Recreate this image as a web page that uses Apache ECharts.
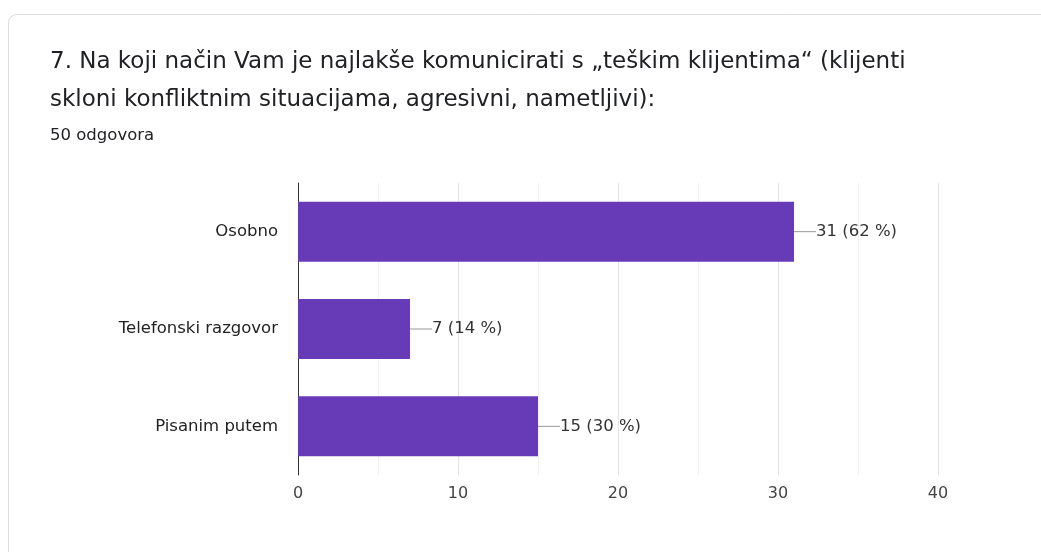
<!DOCTYPE html>
<html><head><meta charset="utf-8">
<script src="https://cdn.jsdelivr.net/npm/echarts@6/dist/echarts.min.js"></script>
<style>html,body{margin:0;padding:0;background:#fff}#c{width:1041px;height:552px}</style>
</head><body><div id="c"></div>
<script>
const categories = ['Osobno', 'Telefonski razgovor', 'Pisanim putem'];
const values = [31, 7, 15];
const percents = ['62 %', '14 %', '30 %'];
const xTicks = [0, 10, 20, 30, 40];

const F = '"DejaVu Sans", Verdana, sans-serif';
const chart = echarts.init(document.getElementById('c'));
chart.setOption({
  animation: false,
  backgroundColor: '#fff',
  graphic: [
    {type: 'rect', shape: {x: 8.5, y: 14.5, width: 1100, height: 600, r: 8}, style: {fill: '#fff', stroke: '#dadce0', lineWidth: 1}, z: -10},
    {type: 'text', left: 50, top: 51, style: {text: '7. Na koji način Vam je najlakše komunicirati s „teškim klijentima“ (klijenti', font: '23px ' + F, fill: '#202124'}},
    {type: 'text', left: 50, top: 89, style: {text: 'skloni konfliktnim situacijama, agresivni, nametljivi):', font: '23px ' + F, fill: '#202124'}},
    {type: 'text', left: 50, top: 127, style: {text: '50 odgovora', font: '16.5px ' + F, fill: '#202124'}}
  ],
  grid: {left: 298, right: 103, top: 183, bottom: 77},
  xAxis: {
    type: 'value', min: xTicks[0], max: xTicks[xTicks.length - 1], interval: 10,
    axisLine: {show: false}, axisTick: {show: false},
    axisLabel: {color: '#444', fontSize: 16, fontFamily: F, margin: 11},
    splitLine: {lineStyle: {color: '#e3e3e3'}},
    minorTick: {show: false, splitNumber: 2},
    minorSplitLine: {show: true, lineStyle: {color: '#f0f0f0'}}
  },
  yAxis: {
    type: 'category', data: categories, inverse: true,
    axisLine: {show: true, lineStyle: {color: '#333', width: 1}},
    axisTick: {show: false},
    axisLabel: {color: '#222', fontSize: 16.5, fontFamily: F, margin: 20}
  },
  series: [{
    type: 'bar', data: values, barWidth: 60,
    itemStyle: {color: '#673ab7'},
    label: {
      show: true, position: 'right', distance: 0,
      formatter: p => p.value + ' (' + percents[p.dataIndex] + ')',
      color: '#333', fontSize: 16.5, fontFamily: F
    },
    labelLayout: {dx: 22},
    labelLine: {show: true, lineStyle: {color: '#999', width: 1}}
  }]
});
</script></body></html>
